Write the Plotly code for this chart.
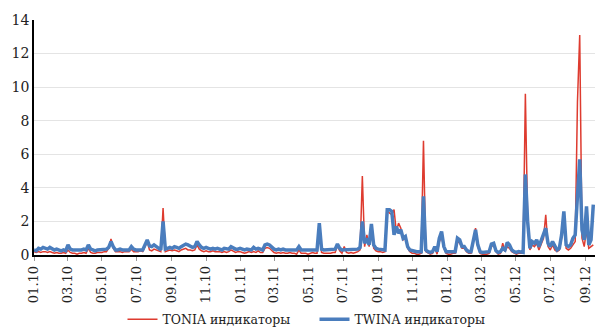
import pandas as pd
import plotly.graph_objects as go

# Observation dates: every 4 days from 01.01.2010
dates = pd.date_range("2010-01-01", periods=248, freq="4D")

twina = [
    0.3, 0.25, 0.4, 0.35, 0.45, 0.4, 0.35, 0.45, 0.4, 0.3,
    0.35, 0.3, 0.25, 0.3, 0.25, 0.6, 0.35, 0.3, 0.3, 0.3,
    0.25, 0.3, 0.35, 0.3, 0.6, 0.35, 0.3, 0.25, 0.3, 0.3,
    0.3, 0.35, 0.35, 0.45, 0.8, 0.5, 0.3, 0.3, 0.35, 0.3,
    0.3, 0.35, 0.3, 0.5, 0.35, 0.3, 0.3, 0.35, 0.3, 0.6,
    0.9, 0.55, 0.5, 0.6, 0.5, 0.4, 0.3, 2.0, 0.35, 0.4,
    0.45, 0.4, 0.5, 0.45, 0.4, 0.5, 0.6, 0.65, 0.6, 0.5,
    0.45, 0.5, 0.8, 0.6, 0.45, 0.4, 0.45, 0.4, 0.35, 0.4,
    0.35, 0.4, 0.35, 0.3, 0.4, 0.35, 0.35, 0.5, 0.4, 0.35,
    0.35, 0.4, 0.35, 0.3, 0.35, 0.35, 0.3, 0.45, 0.35, 0.4,
    0.35, 0.3, 0.6, 0.65, 0.6, 0.45, 0.35, 0.3, 0.35, 0.3,
    0.35, 0.3, 0.3, 0.35, 0.3, 0.3, 0.3, 0.5, 0.3, 0.3,
    0.3, 0.3, 0.3, 0.35, 0.3, 0.3, 1.9, 0.35, 0.3, 0.3,
    0.3, 0.3, 0.3, 0.35, 0.65, 0.4, 0.3, 0.3, 0.3, 0.3,
    0.3, 0.3, 0.3, 0.35, 0.45, 2.0, 0.7, 1.0, 0.6, 1.85,
    0.6, 0.4, 0.35, 0.35, 0.3, 0.3, 2.7, 2.7, 2.6, 1.2,
    1.7, 1.3, 1.5, 1.0, 1.1, 0.5, 0.3, 0.25, 0.2, 0.2,
    0.2, 0.2, 3.5, 0.3, 0.2, 0.15, 0.2, 0.5, 0.2, 1.0,
    1.4, 0.5, 0.2, 0.2, 0.15, 0.2, 0.2, 1.0, 0.9, 0.5,
    0.5, 0.3, 0.2, 0.2, 1.0, 1.5, 0.6, 0.2, 0.15, 0.15,
    0.15, 0.2, 0.65, 0.7, 0.25, 0.15, 0.2, 0.4, 0.3, 0.75,
    0.6, 0.3, 0.2, 0.15, 0.2, 0.2, 0.15, 4.8, 2.0, 0.4,
    0.8, 0.7, 0.9, 0.5, 0.9, 1.3, 1.6, 0.7, 0.5, 0.8,
    0.5, 0.3, 0.4, 1.2, 2.6, 0.6, 0.5, 0.6, 1.0, 1.2,
    3.5, 5.7, 1.5, 0.9, 2.9, 0.6, 0.9, 3.0,
]

tonia = [
    0.2, 0.15, 0.2, 0.15, 0.2, 0.2, 0.15, 0.2, 0.15, 0.1,
    0.15, 0.1, 0.1, 0.15, 0.1, 0.3, 0.15, 0.1, 0.1, 0.05,
    0.1, 0.1, 0.15, 0.1, 0.4, 0.15, 0.1, 0.1, 0.15, 0.15,
    0.15, 0.2, 0.2, 0.4, 0.95, 0.4, 0.2, 0.2, 0.2, 0.15,
    0.2, 0.2, 0.2, 0.35, 0.2, 0.2, 0.2, 0.25, 0.2, 0.5,
    0.8, 0.3, 0.25, 0.35, 0.3, 0.25, 0.2, 2.8, 0.2, 0.25,
    0.3, 0.25, 0.3, 0.25, 0.2, 0.3, 0.35, 0.4, 0.3, 0.3,
    0.25, 0.3, 0.6, 0.35, 0.25, 0.2, 0.25, 0.2, 0.2, 0.25,
    0.2, 0.2, 0.2, 0.15, 0.2, 0.15, 0.2, 0.3, 0.2, 0.15,
    0.2, 0.2, 0.15, 0.1, 0.15, 0.2, 0.15, 0.2, 0.15, 0.25,
    0.15, 0.15, 0.4, 0.45, 0.4, 0.25, 0.15, 0.1, 0.15, 0.1,
    0.15, 0.1, 0.1, 0.15, 0.1, 0.1, 0.05, 0.3, 0.1, 0.1,
    0.1, 0.05, 0.1, 0.15, 0.1, 0.1, 1.7, 0.15, 0.1, 0.1,
    0.1, 0.1, 0.15, 0.15, 0.55, 0.25, 0.1, 0.5, 0.15, 0.1,
    0.15, 0.1, 0.15, 0.2, 0.3, 4.7, 0.5, 1.2, 0.5, 1.7,
    0.4, 0.25, 0.2, 0.2, 0.15, 0.2, 2.6, 2.5, 2.4, 2.7,
    1.4, 1.9, 1.6, 0.9, 1.0, 0.4, 0.2, 0.1, 0.1, 0.05,
    0.05, 0.1, 6.8, 0.2, 0.1, 0.05, 0.1, 0.45, 0.05, 0.8,
    1.1, 0.4, 0.1, 0.05, 0.05, 0.1, 0.1, 0.8, 0.7, 0.4,
    0.4, 0.2, 0.1, 0.1, 0.9, 1.6, 0.5, 0.1, 0.05, 0.05,
    0.05, 0.1, 0.5, 0.6, 0.2, 0.05, 0.1, 0.7, 0.2, 0.5,
    0.4, 0.2, 0.1, 0.05, 0.1, 0.1, 0.1, 9.6, 2.1, 0.3,
    0.6, 0.5, 0.7, 0.3, 0.7, 1.0, 2.4, 0.5, 0.3, 0.6,
    0.3, 0.2, 0.3, 1.0, 2.4, 0.4, 0.3, 0.4, 0.6, 0.8,
    9.1, 13.1, 1.0, 0.5, 1.5, 0.4, 0.5, 0.6,
]

y_ticks = [0, 2, 4, 6, 8, 10, 12, 14]

fig = go.Figure()
fig.add_trace(go.Scatter(
    x=dates, y=tonia, mode="lines", name="TONIA индикаторы",
    line=dict(color="#de3b2f", width=1.5),
))
fig.add_trace(go.Scatter(
    x=dates, y=twina, mode="lines", name="TWINA индикаторы",
    line=dict(color="#4a7dbd", width=3.5),
))

font_family = "DejaVu Serif"
fig.update_layout(
    width=595, height=327,
    margin=dict(l=34, r=0, t=20, b=72, autoexpand=False),
    paper_bgcolor="white", plot_bgcolor="white",
    font=dict(family=font_family, size=13, color="#222"),
    showlegend=True,
    legend=dict(
        orientation="h", x=0.5, xanchor="center", y=-0.275, yanchor="middle",
        font=dict(family=font_family, size=12.5, color="#222"),
        itemwidth=30, tracegroupgap=0,
        entrywidth=147, entrywidthmode="pixels",
    ),
    xaxis=dict(
        type="date",
        automargin=False,
        range=["2010-01-01", "2012-09-18"],
        tick0="2010-01-01", dtick="M2", tickformat="%m.%y",
        tickangle=-90,
        showgrid=False,
        showline=True, linecolor="black", linewidth=1.5,
        ticks="outside", ticklen=4, tickcolor="#999",
        tickfont=dict(family=font_family, size=13, color="#222"),
        zeroline=False,
    ),
    yaxis=dict(
        automargin=False,
        range=[0, 14], tickvals=y_ticks,
        showgrid=True, gridcolor="#e4e4e4", gridwidth=1,
        showline=True, linecolor="black", linewidth=1.5,
        ticks="", zeroline=False,
        tickfont=dict(family=font_family, size=14, color="#222"),
    ),
)

fig.write_html("out.html")
